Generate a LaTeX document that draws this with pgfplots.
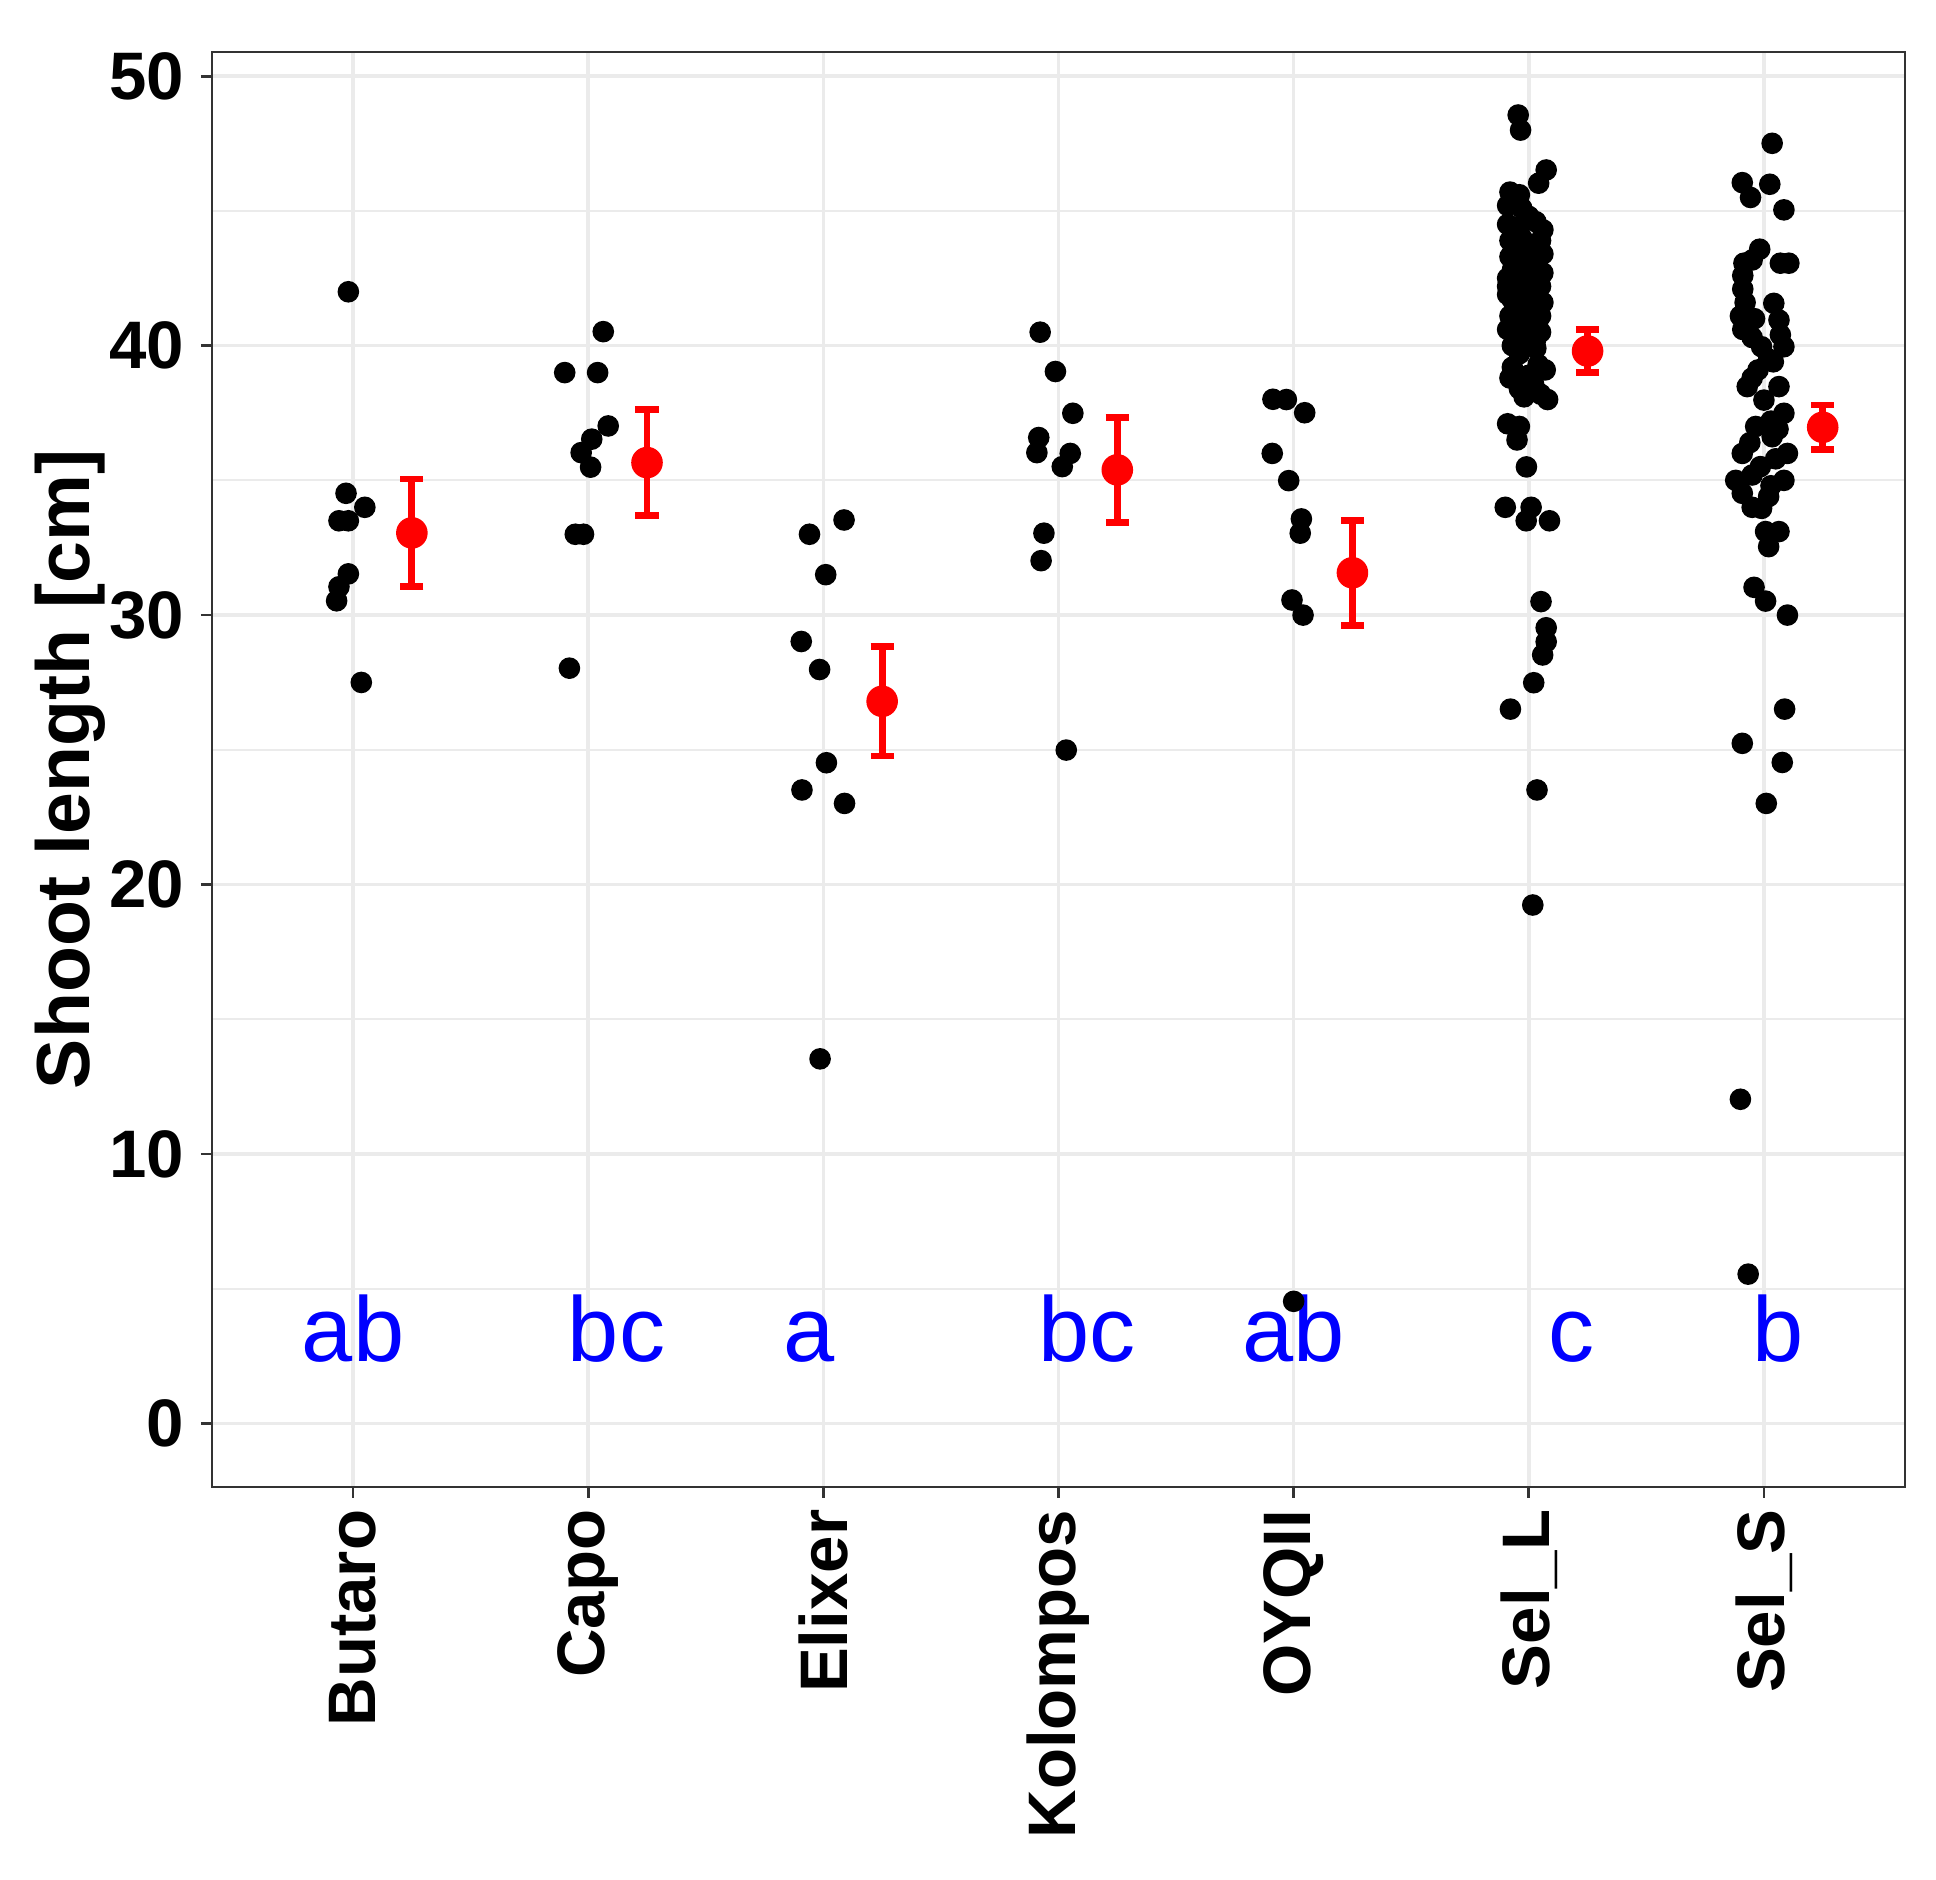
\documentclass[border=0pt]{standalone}
\usepackage{pgfplots}
\pgfplotsset{compat=1.18}
\usepackage{fontspec}
\setmainfont{Liberation Sans}
\usetikzlibrary{calc}
\definecolor{gridgray}{RGB}{235,235,235}
\definecolor{framegray}{RGB}{51,51,51}
\definecolor{meanred}{RGB}{255,0,0}
\definecolor{letterblue}{RGB}{0,0,255}

\begin{document}
\begin{tikzpicture}
\begin{axis}[name=ax, scale only axis, width=423.25pt, height=358.75pt,
  xmin=0.4, xmax=7.6, ymin=-2.36, ymax=50.9,
  xtick={1,...,7}, xticklabels={Butaro,Capo,Elixer,Kolompos,OYQII,Sel\_L,Sel\_S},
  ytick={0,10,...,50}, minor ytick={5,15,...,45},
  grid=both,
  major grid style={gridgray, line width=0.9pt},
  minor grid style={gridgray, line width=0.45pt},
  axis line style={framegray, line width=0.7pt},
  tick style={framegray, line width=0.7pt}, tick align=outside, tick pos=left,
  major tick length=2.75pt, minor tick length=0pt,
  /pgf/number format/assume math mode=true,
  ticklabel style={font=\fontsize{16.8}{20}\selectfont\bfseries},
  xticklabel style={rotate=90, anchor=east, inner sep=2.75pt},
  yticklabel style={inner xsep=4pt, inner ysep=0pt},
  ylabel={Shoot length [cm]},
  ylabel style={font=\fontsize{18.8}{22}\selectfont\bfseries,
    at={(axis description cs:-0.0835,0.5)}, anchor=center},
]
% individual plants (jittered)
\addplot[only marks, mark=*, mark size=2.5pt, black] coordinates {
% Butaro
(0.98,42.0) (0.97,34.52) (1.05,34.0) (0.94,33.5) (0.98,33.5) (0.98,31.53)
(0.94,31.05) (0.93,30.53) (1.035,27.5)
% Capo
(2.064,40.52) (1.90,39.0) (2.04,39.0) (2.085,37.02) (2.015,36.53) (1.97,36.03)
(2.01,35.49) (1.945,33.0) (1.98,33.0) (1.92,28.03)
% Elixer
(3.088,33.53) (2.941,33.0) (3.01,31.5) (2.906,29.02) (2.984,27.98) (3.013,24.52)
(2.909,23.51) (3.09,23.01) (2.986,13.53)
% Kolompos
(3.922,40.5) (3.987,39.04) (4.061,37.49) (3.916,36.59) (3.908,36.03) (4.05,36.0)
(4.016,35.51) (3.938,33.04) (3.926,32.02) (4.033,24.99)
% OYQII
(4.912,38.01) (4.969,38.0) (5.047,37.51) (4.909,36.0) (4.979,34.99) (5.033,33.57)
(5.028,33.04) (4.993,30.56) (5.04,30.0) (5.0,4.53)
% Sel_L
(5.955,48.56) (5.965,48.0) (6.074,46.52) (6.042,46.03)
(5.92,45.7) (5.96,45.6) (5.91,45.2) (5.97,45.1) (5.94,45.4)
(5.91,44.5) (5.96,44.4) (6.03,44.6) (6.06,44.3) (6.0,44.8)
(5.92,43.9) (6.05,43.9) (5.97,44.0) (6.01,43.7)
(5.92,43.3) (5.97,43.4) (6.02,43.2) (6.06,43.4) (5.95,43.6)
(5.93,42.8) (5.98,42.7) (6.03,42.9) (6.06,42.7) (5.91,42.5) (6.0,42.45)
(5.91,42.2) (5.96,42.3) (6.0,42.1) (6.05,42.2)
(5.93,41.7) (5.98,41.6) (6.03,41.8) (6.06,41.6) (5.91,41.9) (6.01,41.4)
(5.92,41.1) (5.97,41.2) (6.01,41.0) (6.05,41.1) (5.94,40.85)
(5.91,40.6) (5.95,40.5) (6.0,40.7) (6.05,40.5) (6.03,40.25)
(5.93,40.0) (5.98,40.1) (6.03,39.9) (5.96,39.7)
(5.93,39.2) (6.07,39.1) (6.0,38.9) (5.92,38.8) (6.04,39.3)
(5.96,38.4) (6.02,38.6) (6.05,38.2) (6.08,38.0) (5.98,38.1)
(5.91,37.1) (5.96,37.0) (5.95,36.5) (5.99,35.5)
(5.90,34.0) (6.01,34.0) (5.989,33.5) (6.088,33.5)
(6.052,30.5) (6.074,29.53) (6.074,29.01) (6.059,28.52) (6.021,27.49)
(5.922,26.51) (6.035,23.51) (6.017,19.24)
% Sel_S
(7.035,47.51) (6.908,46.05) (7.025,45.99) (6.943,45.5) (7.085,45.04)
(6.982,43.58) (6.915,43.06) (7.07,43.06) (7.106,43.06) (6.95,43.18)
(6.91,42.6) (6.91,42.1) (6.92,41.6) (6.90,41.1) (6.96,41.0) (6.91,40.6) (6.95,40.3)
(7.042,41.57) (7.064,40.95) (7.07,40.4) (6.99,39.96) (7.085,39.96)
(6.975,39.1) (7.04,39.4) (7.02,39.5) (6.95,38.8)
(6.929,38.48) (7.064,38.48) (7.0,37.98) (7.085,37.49) (7.03,37.2)
(6.965,37.0) (7.035,36.62) (6.94,36.4) (7.06,36.9)
(6.908,36.0) (7.1,36.0) (6.985,35.51) (7.05,35.8) (6.95,35.2)
(6.88,35.0) (7.085,35.0) (6.908,34.52) (7.02,34.4) (7.03,34.8)
(6.99,33.96) (6.95,34.0) (7.007,33.1) (7.064,33.1) (7.02,32.54)
(6.958,31.03) (7.007,30.52) (7.1,30.0) (7.088,26.51) (6.908,25.24)
(7.078,24.53) (7.01,23.01) (6.9,12.03) (6.933,5.54)
};
% means with error bars
\addplot[only marks, mark=*, mark size=3.75pt, meanred,
  error bars/.cd, y dir=both, y explicit,
  error bar style={line width=1.7pt, meanred},
  error mark options={rotate=90, line width=1.7pt, mark size=2.9pt, meanred}]
coordinates {
(1.25,33.05) +- (0,2.0)
(2.25,35.66) +- (0,1.97)
(3.25,26.8) +- (0,2.03)
(4.25,35.39) +- (0,1.94)
(5.25,31.57) +- (0,1.95)
(6.25,39.8) +- (0,0.8)
(7.25,36.97) +- (0,0.83)
};
% group letters
\node[letterblue, anchor=base, font=\fontsize{23}{27}\selectfont] at (axis cs:1.0,2.3) {ab};
\node[letterblue, anchor=base, font=\fontsize{23}{27}\selectfont] at (axis cs:2.12,2.3) {bc};
\node[letterblue, anchor=base, font=\fontsize{23}{27}\selectfont] at (axis cs:2.94,2.3) {a};
\node[letterblue, anchor=base, font=\fontsize{23}{27}\selectfont] at (axis cs:4.12,2.3) {bc};
\node[letterblue, anchor=base, font=\fontsize{23}{27}\selectfont] at (axis cs:5.0,2.3) {ab};
\node[letterblue, anchor=base, font=\fontsize{23}{27}\selectfont] at (axis cs:6.18,2.3) {c};
\node[letterblue, anchor=base, font=\fontsize{23}{27}\selectfont] at (axis cs:7.06,2.3) {b};
\end{axis}
\pgfresetboundingbox
\path[use as bounding box] ($(ax.south west)+(-53pt,-98.25pt)$) rectangle ($(ax.north east)+(7.75pt,13pt)$);
\end{tikzpicture}
\end{document}
